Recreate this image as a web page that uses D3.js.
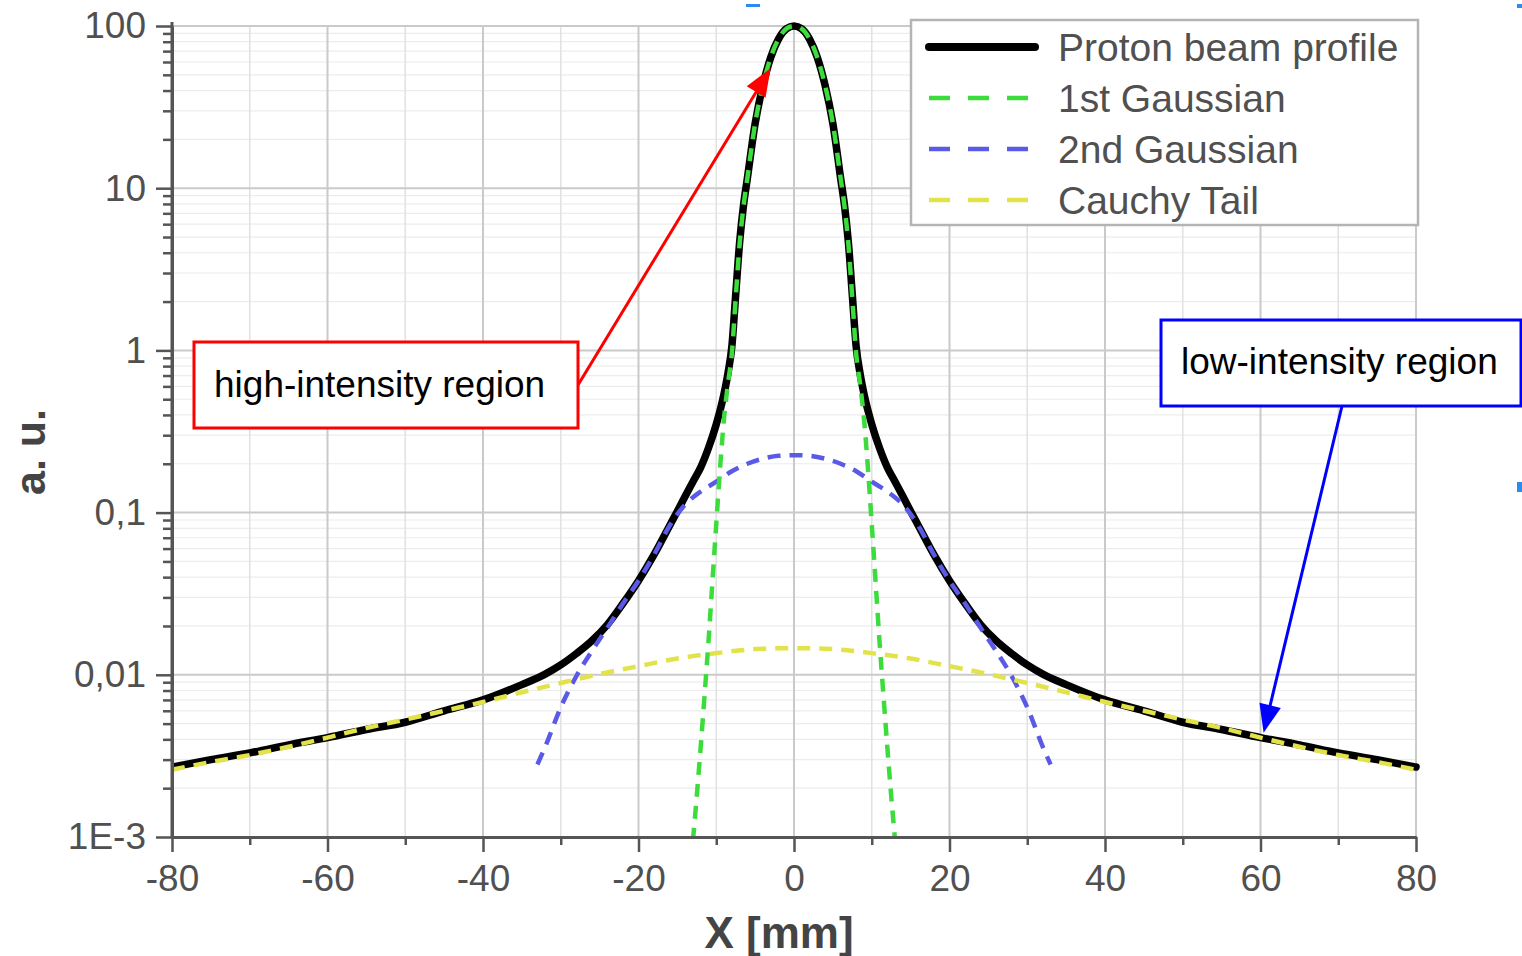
<!DOCTYPE html>
<html><head><meta charset="utf-8">
<script src="https://cdn.jsdelivr.net/npm/d3@7"></script>
<style>
body{margin:0;background:#fff;}
svg{display:block;}
text{font-family:"Liberation Sans",Arial,Helvetica,sans-serif;}
</style>
</head><body>
<script>
// ---------- data ----------
const xTickValues = [-80,-60,-40,-20,0,20,40,60,80];
const xMinorTickValues = [-70,-50,-30,-10,10,30,50,70];
const yTickValues = [0.001,0.01,0.1,1,10,100];
const yTickLabels = ["1E-3","0,01","0,1","1","10","100"];
const xAxisTitle = "X [mm]";
const yAxisTitle = "a. u.";
const seriesNames = ["Proton beam profile","1st Gaussian","2nd Gaussian","Cauchy Tail"];
const seriesColors = ["#000000","#3ddc3d","#5a5ae6","#e2e24a"];

const profileX = [-80,-75,-70,-65,-60,-55,-50,-45,-40,-35,-32,-30,-28,-26,-24,-22,-20,-18,-16,-15,-14,-13,-12,-11,-10,-9,-8.5,-8,-7.5,-7,-6.5,-6,-5,-4,-3,-2,-1,0,
                  1,2,3,4,5,6,6.5,7,7.5,8,8.5,9,10,11,12,13,14,15,16,18,20,22,24,26,28,30,32,35,40,45,50,55,60,65,70,75,80];
const profileY = [0.0027,0.0030,0.0033,0.0037,0.0041,0.0046,0.0051,0.0060,0.0070,0.0087,0.0101,0.0115,0.0135,0.0162,0.0204,0.0275,0.038,0.055,0.083,0.102,0.126,0.155,0.19,0.25,0.35,0.54,0.72,1.05,2.2,4.6,7.8,11.5,25,43,64,83,96,100,
                  96,83,64,43,25,11.5,7.8,4.6,2.2,1.05,0.72,0.54,0.35,0.25,0.19,0.155,0.126,0.102,0.083,0.055,0.038,0.0275,0.0204,0.0162,0.0135,0.0115,0.0101,0.0087,0.0070,0.0060,0.0051,0.0046,0.0041,0.0037,0.0033,0.0030,0.0027];

const gauss1X = [-13,-12.5,-12,-11.5,-11,-10.5,-10,-9.5,-9,-8.5,-8,-7.5,-7,-6.5,-6,-5,-4,-3,-2,-1,0,1,2,3,4,5,6,6.5,7,7.5,8,8.5,9,9.5,10,10.5,11,11.5,12,12.5,13];
const gauss1Y = [0.00095,0.0018,0.0036,0.0075,0.016,0.037,0.085,0.19,0.38,0.62,0.95,2.1,4.5,7.7,11.5,25,43,64,83,96,100,
                 96,83,64,43,25,11.5,7.7,4.5,2.1,0.95,0.62,0.38,0.19,0.085,0.037,0.016,0.0075,0.0036,0.0018,0.00095];

const gauss2X = [-33,-32,-30,-28,-26,-24,-22,-20,-18,-16,-14,-12,-10,-8,-6,-4,-2,0,2,4,6,8,10,12,14,16,18,20,22,24,26,28,30,32,33];
const gauss2Y = [0.0028,0.0036,0.0063,0.0098,0.0140,0.0195,0.0275,0.038,0.055,0.083,0.112,0.135,0.155,0.18,0.20,0.215,0.224,0.226,
                 0.224,0.215,0.20,0.18,0.155,0.135,0.112,0.083,0.055,0.038,0.0275,0.0195,0.0140,0.0098,0.0063,0.0036,0.0028];

const cauchyX = [-80,-75,-70,-65,-60,-55,-50,-45,-40,-35,-30,-25,-20,-15,-10,-5,0,5,10,15,20,25,30,35,40,45,50,55,60,65,70,75,80];
const cauchyY = [0.0026,0.0029,0.0032,0.0036,0.0041,0.0047,0.0053,0.0060,0.0068,0.0078,0.0089,0.0101,0.0113,0.0126,0.0136,0.0144,0.0146,
                 0.0144,0.0136,0.0126,0.0113,0.0101,0.0089,0.0078,0.0068,0.0060,0.0053,0.0047,0.0041,0.0036,0.0032,0.0029,0.0026];

const annotationTexts = ["high-intensity region","low-intensity region"];
const annotationColors = ["#ff0000","#0000ff"];
const annotationTargetX = [-3, 60.4];
const annotationTargetY = [55, 0.0044];

// ---------- setup ----------
const W = 1522, H = 956;
const svg = d3.select("body").append("svg").attr("width", W).attr("height", H);
const x = d3.scaleLinear().domain([-80, 80]).range([172, 1416]);
const y = d3.scaleLog().domain([0.001, 100]).range([837, 26]);
const [x0, x1] = x.range();
const [yb, yt] = y.range();

// ---------- grid ----------
const grid = svg.append("g");
const yMinor = [];
[0.001,0.01,0.1,1,10].forEach(d => { for (let m = 2; m <= 9; m++) yMinor.push(m * d); });
grid.selectAll(".ym").data(yMinor).join("line")
  .attr("x1", x0).attr("x2", x1).attr("y1", d => y(d)).attr("y2", d => y(d))
  .attr("stroke", "#ececec").attr("stroke-width", 1.2);
grid.selectAll(".xm").data(xMinorTickValues).join("line")
  .attr("x1", d => x(d)).attr("x2", d => x(d)).attr("y1", yt).attr("y2", yb)
  .attr("stroke", "#e2e2e2").attr("stroke-width", 1.6);
grid.selectAll(".yM").data(yTickValues.slice(1)).join("line")
  .attr("x1", x0).attr("x2", x1).attr("y1", d => y(d)).attr("y2", d => y(d))
  .attr("stroke", "#cacaca").attr("stroke-width", 2);
grid.selectAll(".xM").data(xTickValues.slice(1)).join("line")
  .attr("x1", d => x(d)).attr("x2", d => x(d)).attr("y1", yt).attr("y2", yb)
  .attr("stroke", "#cacaca").attr("stroke-width", 2);

// ---------- curves ----------
svg.append("clipPath").attr("id", "clip").append("rect")
  .attr("x", x0).attr("y", 10).attr("width", x1 - x0 + 6).attr("height", yb - 10);
const plot = svg.append("g").attr("clip-path", "url(#clip)");
const line = d3.line().x(d => x(d[0])).y(d => y(d[1])).curve(d3.curveMonotoneX);
const zip = (a, b) => a.map((v, i) => [v, b[i]]);

plot.append("path").datum(zip(profileX, profileY)).attr("d", line)
  .attr("fill", "none").attr("stroke", seriesColors[0]).attr("stroke-width", 7.5)
  .attr("stroke-linejoin", "round").attr("stroke-linecap", "round");
const dashed = [[gauss2X, gauss2Y, 2], [cauchyX, cauchyY, 3], [gauss1X, gauss1Y, 1]];
dashed.forEach(([xs, ys, k]) => {
  plot.append("path").datum(zip(xs, ys)).attr("d", line)
    .attr("fill", "none").attr("stroke", seriesColors[k]).attr("stroke-width", 4.5)
    .attr("stroke-dasharray", "13,9");
});

// ---------- axes ----------
const axisColor = "#555";
const yAx = svg.append("g").attr("transform", `translate(${x0},0)`)
  .call(d3.axisLeft(y).tickValues(yTickValues).tickFormat((d, i) => yTickLabels[i]).tickSize(16).tickSizeOuter(0).tickPadding(10));
const yAxMinor = svg.append("g").attr("transform", `translate(${x0},0)`)
  .call(d3.axisLeft(y).tickValues(yMinor).tickFormat("").tickSize(9).tickSizeOuter(0));
const xAx = svg.append("g").attr("transform", `translate(0,${yb})`)
  .call(d3.axisBottom(x).tickValues(xTickValues).tickFormat(d => String(d)).tickSize(15).tickSizeOuter(0).tickPadding(13));
const xAxMinor = svg.append("g").attr("transform", `translate(0,${yb})`)
  .call(d3.axisBottom(x).tickValues(xMinorTickValues).tickFormat("").tickSize(8).tickSizeOuter(0));
[yAx, yAxMinor, xAx, xAxMinor].forEach(g => {
  g.select(".domain").attr("stroke", axisColor).attr("stroke-width", 3);
  g.selectAll(".tick line").attr("stroke", axisColor).attr("stroke-width", 2.5);
  g.selectAll("text").attr("fill", "#505050").attr("font-size", 37)
    .attr("font-family", '"Liberation Sans",Arial,sans-serif');
});
yAx.select(".domain").attr("d", `M0,${yb}V${yt - 4}`);

svg.append("text").attr("x", 779).attr("y", 948).attr("text-anchor", "middle")
  .attr("font-size", 44).attr("font-weight", "bold").attr("fill", "#444").text(xAxisTitle);
svg.append("text").attr("transform", "translate(45,452) rotate(-90)").attr("text-anchor", "middle")
  .attr("font-size", 43).attr("font-weight", "bold").attr("fill", "#444").text(yAxisTitle);

// ---------- legend ----------
const lg = svg.append("g");
lg.append("rect").attr("x", 911).attr("y", 20).attr("width", 507).attr("height", 205)
  .attr("fill", "#fff").attr("stroke", "#b4b4b4").attr("stroke-width", 2.5);
seriesNames.forEach((name, i) => {
  const cy = 47 + i * 51;
  lg.append("line").attr("x1", 929).attr("x2", 1035).attr("y1", cy).attr("y2", cy)
    .attr("stroke", seriesColors[i]).attr("stroke-width", i === 0 ? 8 : 4.5)
    .attr("stroke-linecap", i === 0 ? "round" : "butt")
    .attr("stroke-dasharray", i === 0 ? null : "21,18");
  lg.append("text").attr("x", 1058).attr("y", cy).attr("dy", "0.36em")
    .attr("font-size", 39).attr("fill", "#505050").text(name);
});

// ---------- annotations ----------
const boxes = [
  {bx: 194, by: 342, bw: 384, bh: 86, tx: 214, ty: 397, ax: 578, ay: 385},
  {bx: 1161, by: 320, bw: 360, bh: 86, tx: 1181, ty: 374, ax: 1342, ay: 406}
];
boxes.forEach((b, i) => {
  const c = annotationColors[i];
  const tipX = x(annotationTargetX[i]), tipY = y(annotationTargetY[i]);
  const dx = tipX - b.ax, dy = tipY - b.ay, len = Math.hypot(dx, dy);
  const ux = dx / len, uy = dy / len, nx = -uy, ny = ux;
  const L = 28, Wd = 11;
  svg.append("line").attr("x1", b.ax).attr("y1", b.ay)
    .attr("x2", tipX - ux * L * 0.8).attr("y2", tipY - uy * L * 0.8)
    .attr("stroke", c).attr("stroke-width", 3);
  svg.append("polygon").attr("points", [
    [tipX, tipY],
    [tipX - ux * L + nx * Wd, tipY - uy * L + ny * Wd],
    [tipX - ux * L - nx * Wd, tipY - uy * L - ny * Wd]].map(p => p.join(",")).join(" "))
    .attr("fill", c);
  svg.append("rect").attr("x", b.bx).attr("y", b.by).attr("width", b.bw).attr("height", b.bh)
    .attr("fill", "#fff").attr("stroke", c).attr("stroke-width", 3);
  svg.append("text").attr("x", b.tx).attr("y", b.ty).attr("font-size", 37)
    .attr("fill", "#000").text(annotationTexts[i]);
});

// small stray marks of the original picture
svg.append("rect").attr("x", 746).attr("y", 4).attr("width", 14).attr("height", 3).attr("fill", "#2a8cf0");
svg.append("rect").attr("x", 1517).attr("y", 4).attr("width", 5).attr("height", 4).attr("fill", "#2a8cf0");
svg.append("rect").attr("x", 1517).attr("y", 482).attr("width", 5).attr("height", 10).attr("fill", "#2a8cf0");
</script>
</body></html>
